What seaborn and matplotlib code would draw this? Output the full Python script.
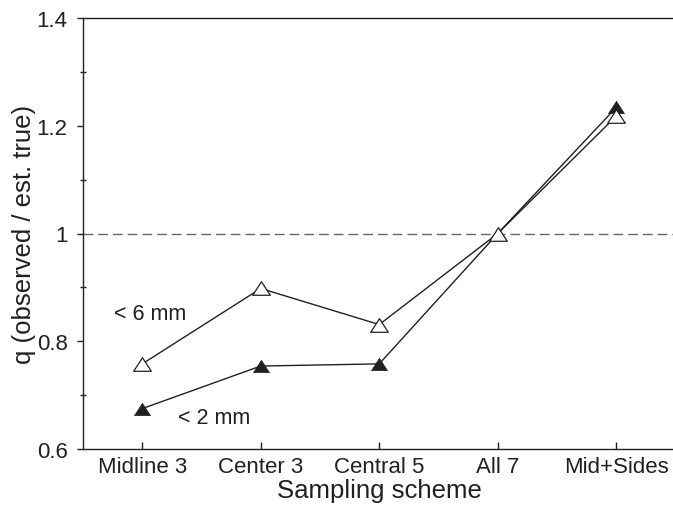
import matplotlib
matplotlib.use('Agg')
import matplotlib.pyplot as plt
from matplotlib.path import Path
import seaborn as sns
import pandas as pd

# data
schemes = ['Midline 3', 'Center 3', 'Central 5', 'All 7', 'Mid+Sides']
q_lt6 = [0.758, 0.898, 0.831, 1.0, 1.218]   # open triangles, < 6 mm
q_lt2 = [0.675, 0.754, 0.758, 1.0, 1.234]   # filled triangles, < 2 mm
ytick_vals = [0.6, 0.8, 1.0, 1.2, 1.4]
ytick_labels = ['0.6', '0.8', '1', '1.2', '1.4']
yminor_vals = [0.7, 0.9, 1.1, 1.3]

sns.set_style('ticks')
plt.rcParams['font.family'] = ['Liberation Sans', 'DejaVu Sans']
ink = '#231f20'

df = pd.DataFrame({
    'scheme': schemes * 2,
    'q': q_lt2 + q_lt6,
    'size': ['< 2 mm'] * 5 + ['< 6 mm'] * 5,
})

# flattened triangle marker (wider than tall, like the original)
tri = Path([(-1.3, -1), (1.3, -1), (0, 1), (-1.3, -1)],
           [Path.MOVETO, Path.LINETO, Path.LINETO, Path.CLOSEPOLY])

fig = plt.figure(figsize=(6.73, 5.1), dpi=100)
ax = fig.add_axes([83 / 673, 60 / 510, 592.5 / 673, 431 / 510])

ax.axhline(1.0, color='#666666', lw=1, linestyle=(0, (7, 3.6)), zorder=1)

sns.lineplot(data=df[df['size'] == '< 2 mm'], x='scheme', y='q', sort=False,
             errorbar=None, color=ink, lw=1, marker=tri, markersize=11.5,
             markerfacecolor=ink, markeredgecolor=ink, mew=0.5, ax=ax, zorder=2)
sns.lineplot(data=df[df['size'] == '< 6 mm'], x='scheme', y='q', sort=False,
             errorbar=None, color=ink, lw=1, marker=tri, markersize=12.7,
             markerfacecolor='white', markeredgecolor=ink, mew=0.9, ax=ax, zorder=3)

ax.text(-0.236, 0.852, '< 6 mm', fontsize=15.5, color=ink, ha='left', va='center')
ax.text(0.304, 0.658, '< 2 mm', fontsize=15.5, color=ink, ha='left', va='center')

ax.set_xlim(-0.5, 4.5)
ax.set_ylim(0.6, 1.4)
ax.set_yticks(ytick_vals, labels=ytick_labels)
ax.set_yticks(yminor_vals, minor=True)

ax.tick_params(axis='x', direction='in', length=5, width=1, pad=5,
               labelsize=16, colors=ink)
ax.tick_params(axis='y', which='major', direction='out', length=4, width=1,
               pad=7, labelsize=16, colors=ink)
ax.tick_params(axis='y', which='minor', direction='inout', length=5, width=1,
               colors=ink)

for side in ['top', 'left', 'bottom']:
    ax.spines[side].set_color(ink)
    ax.spines[side].set_linewidth(1)
ax.spines['right'].set_visible(False)

ax.set_xlabel('Sampling scheme', fontsize=18.5, color=ink, labelpad=1)
ax.set_ylabel('q (observed / est. true)', fontsize=18.5, color=ink)
ax.yaxis.set_label_coords(-0.08, 0.5)

fig.savefig('out.png', dpi=100)
